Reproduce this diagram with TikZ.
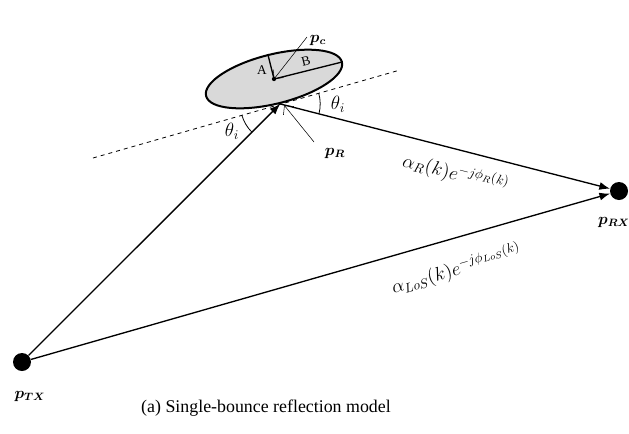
\documentclass[tikz,border=0pt]{standalone}
\usepackage{amsmath,bm}
\usepackage{fontspec}
\setmainfont{Liberation Serif}
\usetikzlibrary{arrows.meta,positioning,shapes.geometric,angles}

\begin{document}
\begin{tikzpicture}[x=0.75pt, y=-0.75pt]
  %% canvas
  \useasboundingbox (0,0) rectangle (629,433);

  %% scatterer and its axes
  \node[draw, line width=1.5pt, fill=black!15, ellipse, rotate=14, minimum width=105pt, minimum height=37pt, inner sep=0pt] (refl) at (274,79) {};
  \fill (refl.center) circle (1.6pt);
  \draw[line width=1pt] (refl.center) -- (refl.north);
  \draw[line width=1pt] (refl.center) -- (refl.east);
  \node[font=\normalsize] (lblA) at (262,70) {A};
  \node[font=\normalsize, rotate=14] (lblB) at (306,61) {B};

  %% tangent plane at the reflection point
  \coordinate (R) at (refl.south);
  \coordinate (dl) at (93,158);
  \coordinate (dr) at (400,70);
  \draw[dashed, line width=0.6pt] (dl) -- (dr);

  %% terminals
  \node[circle, fill=black, minimum size=13.5pt, inner sep=0pt] (tx) at (22,362) {};
  \node[circle, fill=black, minimum size=13.5pt, inner sep=0pt] (rx) at (619,191) {};
  \node[font=\large] (ptx) at (30,396) {$\bm{p_{TX}}$};
  \node[font=\large] (prx) at (614,222) {$\bm{p_{RX}}$};

  %% paths
  \draw[-{Latex[length=8pt]}, line width=1pt] (tx) -- (R);
  \draw[-{Latex[length=8pt]}, line width=1pt] (R) -- node[sloped, below=6pt, pos=0.55, font=\Large] {$\alpha_R(k)e^{-j\phi_R(k)}$} (rx);
  \draw[-{Latex[length=8pt]}, line width=1pt] (tx) -- node[sloped, below=11pt, pos=0.72, font=\Large] {$\alpha_{LoS}(k)e^{-j\phi_{LoS}(k)}$} (rx);

  %% incidence angles
  \pic[draw, line width=0.6pt, angle radius=30pt] {angle = dl--R--tx};
  \pic[draw, line width=0.6pt, angle radius=30pt] {angle = rx--R--dr};
  \node[font=\Large] (thl) at (232,131) {$\theta_i$};
  \node[font=\Large] (thr) at (338,104) {$\theta_i$};

  %% point labels
  \node[font=\large] (pc) at (318,40) {$\bm{p_c}$};
  \node[font=\large] (pr) at (335,153) {$\bm{p_R}$};
  \coordinate (pcs) at (307,37);
  \coordinate (prs) at (314,142);
  \draw[-{Straight Barb[length=5pt]}, line width=0.4pt] (pcs) -- (refl.center);
  \draw[-{Straight Barb[length=5pt]}, line width=0.4pt] (prs) -- ([shift={(3pt,-1pt)}]R);

  %% caption
  \node[font=\fontsize{13.4}{16}\selectfont] (cap) at (266,408) {(a) Single-bounce reflection model};
\end{tikzpicture}
\end{document}
